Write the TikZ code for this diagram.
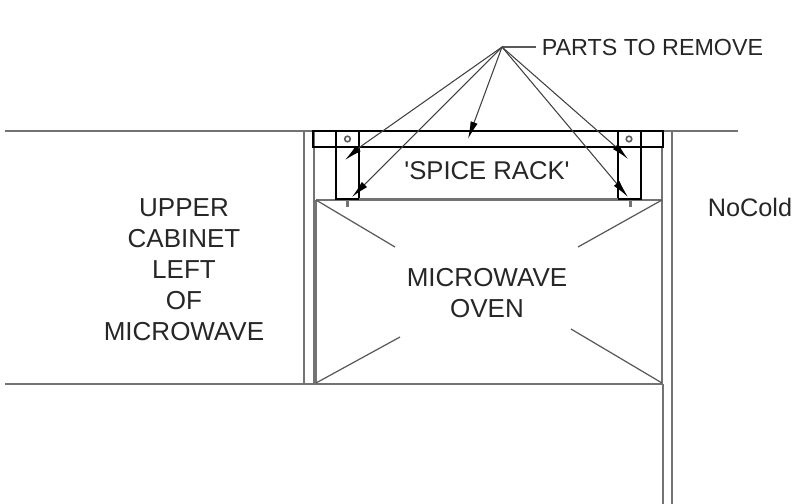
\documentclass[tikz,border=0pt]{standalone}
\usepackage{fontspec}
\setmainfont{Liberation Sans}
\usetikzlibrary{arrows.meta}
\begin{document}
\begin{tikzpicture}[x=0.02cm,y=-0.02cm,
  wall/.style={draw=black!55,line width=0.8pt},
  heavy/.style={draw=black,line width=1.5pt},
  thin line/.style={draw=black!65,line width=0.7pt},
  bolt/.style={fill=black!55,draw=none},
  leader/.style={draw=black!75,line width=0.6pt,-{Latex[length=10pt,width=4.2pt,color=black]}},
  tag/.style={font=\fontsize{14.8}{17.6}\selectfont,text=black!85,align=center,inner sep=0pt}]
\useasboundingbox (0,0) rectangle (809,504);

% cabinet and wall lines
\draw[wall] (5,131) -- (313,131);
\draw[wall] (663,131) -- (738,131);
\draw[wall] (5,384) -- (663,384);
\draw[wall] (304,131) -- (304,384);
\draw[wall,line width=1.2pt] (314,131) -- (314,384);
\draw[wall,line width=1.2pt] (662,147) -- (662,384);
\draw[wall] (663,384) -- (663,504);
\draw[wall] (672,131) -- (672,504);

% oven
\draw[wall] (316,200) -- (662,200);
\draw[wall] (316,200) -- (316,384);
\draw[thin line] (316,200) -- (395,247);
\draw[thin line] (662,200) -- (578,247);
\draw[thin line] (316,383) -- (400,337);
\draw[thin line] (662,383) -- (571,329);

% rack and brackets
\draw[heavy] (313,131) rectangle (663,147);
\draw[heavy] (336,131) rectangle (359,199);
\draw[heavy] (618,131) rectangle (641,199);
\draw[wall] (359,199) -- (618,199);
\draw[thin line,line width=0.9pt] (347.5,139) circle (2.8);
\draw[thin line,line width=0.9pt] (629,139) circle (2.8);
\fill[bolt] (345.5,200) rectangle (348.5,207);
\fill[bolt] (628.5,200) rectangle (631.5,207);

\node[tag,font=\fontsize{13.25}{17.6}\selectfont] (parts) at (652.5,47) {PARTS TO REMOVE};
\node[tag] (upper) at (184,269.5) {UPPER\\CABINET\\LEFT\\OF\\MICROWAVE};
\node[tag] (oven) at (487,293) {MICROWAVE\\OVEN};
\node[tag,font=\fontsize{14.6}{17.6}\selectfont] (spice) at (487,171) {\textquotesingle SPICE RACK\textquotesingle};
\node[tag,font=\fontsize{14.4}{17.6}\selectfont] (cold) at (750,207) {NoCold};

\coordinate (apex) at (502,47);
\coordinate (tipa) at (345,160);
\coordinate (tipb) at (352,197);
\coordinate (tipc) at (468,139);
\coordinate (tipd) at (628,159);
\coordinate (tipe) at (628,197);

% leaders
\draw[thin line] (parts.west) ++(-6,0) -- (apex);
\draw[leader] (apex) -- (360,147) -- (tipa);
\draw[leader] (apex) -- (tipb);
\draw[leader] (apex) -- (tipc);
\draw[leader] (apex) -- (616,147) -- (tipd);
\draw[leader] (apex) -- (tipe);
\end{tikzpicture}
\end{document}
